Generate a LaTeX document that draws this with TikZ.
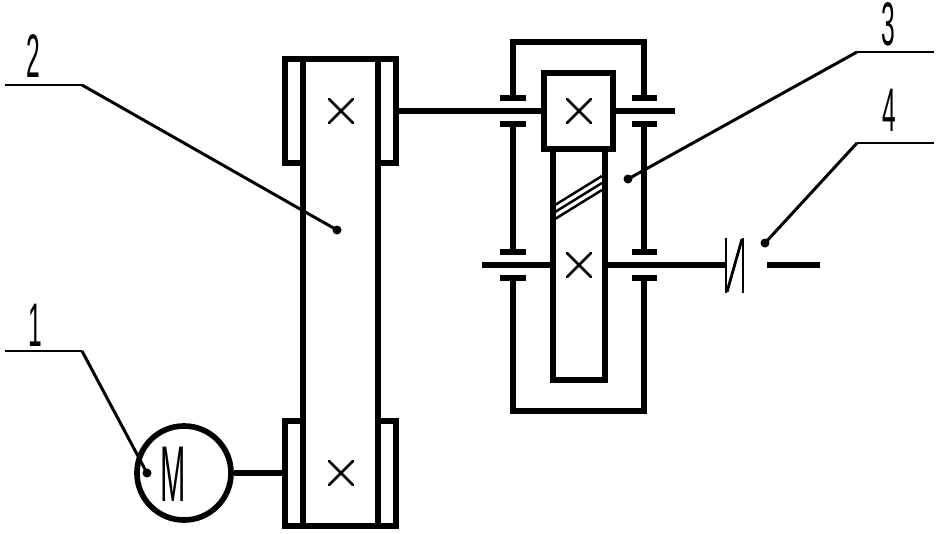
\documentclass[tikz,border=0pt]{standalone}
\usepackage{fontspec}
\setmainfont{Liberation Sans}
\usetikzlibrary{positioning}

\tikzset{
	wall/.style={line width=1.45pt, line cap=rect},
	shaft/.style={line width=1.45pt},
	leader/.style={line width=0.85pt},
	shelf/.style={line width=0.7pt},
	crossmark/.style={line width=0.75pt, line cap=round},
	helix/.style={line width=0.7pt},
	clutchbar/.style={line width=0.8pt},
	leaderdot/.style={circle, fill=black, inner sep=0pt, minimum size=0.09cm},
	callout/.style={inner sep=0pt, font=\fontsize{17.5}{17.5}\selectfont, xscale=0.4},
	motorletter/.style={inner sep=0pt, font=\fontsize{22.5}{22.5}\selectfont, xscale=0.385}
}

\begin{document}
\begin{tikzpicture}[x=0.01cm, y=-0.01cm]
	\useasboundingbox (0, 0) rectangle (939, 533);
	% Belt drive:
	\draw[wall] (303, 163) -- (285, 163) -- (285, 59) -- (396, 59) -- (396, 163) -- (378, 163);
	\draw[wall] (303, 421) -- (285, 421) -- (285, 526) -- (396, 526) -- (396, 421) -- (378, 421);
	\draw[wall] (303, 59) -- (303, 526);
	\draw[wall] (378, 59) -- (378, 526);
	\foreach \cx/\cy/\cname in {341/111/crossA, 341/473/crossB, 579/111/crossC, 579/265/crossD} {
		\coordinate (\cname) at (\cx, \cy);
		\draw[crossmark] (\cx-12, \cy-12) -- (\cx+12, \cy+12) (\cx-12, \cy+12) -- (\cx+12, \cy-12);
	}
	% Motor:
	\node[circle, draw, line width=1.6pt, minimum size=0.94cm, inner sep=0pt] (motor) at (184, 473) {};
	\node[motorletter] (motorlabel) at (173.5, 474) {M};
	\coordinate (pulleyin) at (285, 473);
	\draw[shaft] (motor.east) -- (pulleyin);
	% Gearbox:
	\draw[wall] (544, 73) rectangle (613, 149);
	\draw[wall] (553, 149) -- (553, 380) -- (605, 380) -- (605, 149);
	\draw[helix] (555, 205) -- (602, 176);
	\draw[helix] (555, 212) -- (602, 183);
	\draw[helix] (555, 219) -- (602, 190);
	\draw[shaft] (396, 111) -- (544, 111);
	\draw[shaft] (613, 111) -- (675, 111);
	\draw[shaft] (482, 265) -- (553, 265);
	\draw[shaft] (605, 265) -- (726, 265);
	\draw[shaft] (767, 265) -- (820, 265);
	\draw[wall] (513, 98) -- (513, 42) -- (644, 42) -- (644, 98);
	\draw[wall] (513, 124) -- (513, 252);
	\draw[wall] (644, 124) -- (644, 252);
	\draw[wall] (513, 278) -- (513, 411) -- (644, 411) -- (644, 278);
	\foreach \by in {98, 124, 252, 278} {
		\draw[shaft] (500, \by) -- (526, \by);
		\draw[shaft] (632, \by) -- (657, \by);
	}
	% Clutch:
	\draw[clutchbar] (726, 238) -- (726, 293);
	\draw[clutchbar] (727, 292) -- (742, 239);
	\draw[clutchbar] (743, 238) -- (743, 293);
	% Leaders:
	\node[leaderdot] (dotA) at (147, 473) {};
	\node[leaderdot] (dotB) at (337, 230) {};
	\node[leaderdot] (dotC) at (628, 179) {};
	\node[leaderdot] (dotD) at (765, 243) {};
	\coordinate (kneeA) at (82, 351);
	\coordinate (kneeB) at (82, 85);
	\coordinate (kneeC) at (857, 52);
	\coordinate (kneeD) at (857, 143);
	\coordinate (endA) at (5, 351);
	\coordinate (endB) at (5, 85);
	\coordinate (endC) at (934, 52);
	\coordinate (endD) at (934, 143);
	\draw[leader] (dotA.center) -- (kneeA);
	\draw[leader] (dotB.center) -- (kneeB);
	\draw[leader] (dotC.center) -- (kneeC);
	\draw[leader] (dotD.center) -- (kneeD);
	\draw[shelf] (kneeA) -- (endA);
	\draw[shelf] (kneeB) -- (endB);
	\draw[shelf] (kneeC) -- (endC);
	\draw[shelf] (kneeD) -- (endD);
	\node[callout] (numA) at (35, 325) {1};
	\node[callout] (numB) at (33, 56.5) {2};
	\node[callout] (numC) at (888, 24.5) {3};
	\node[callout] (numD) at (889, 110.5) {4};
\end{tikzpicture}
\end{document}
